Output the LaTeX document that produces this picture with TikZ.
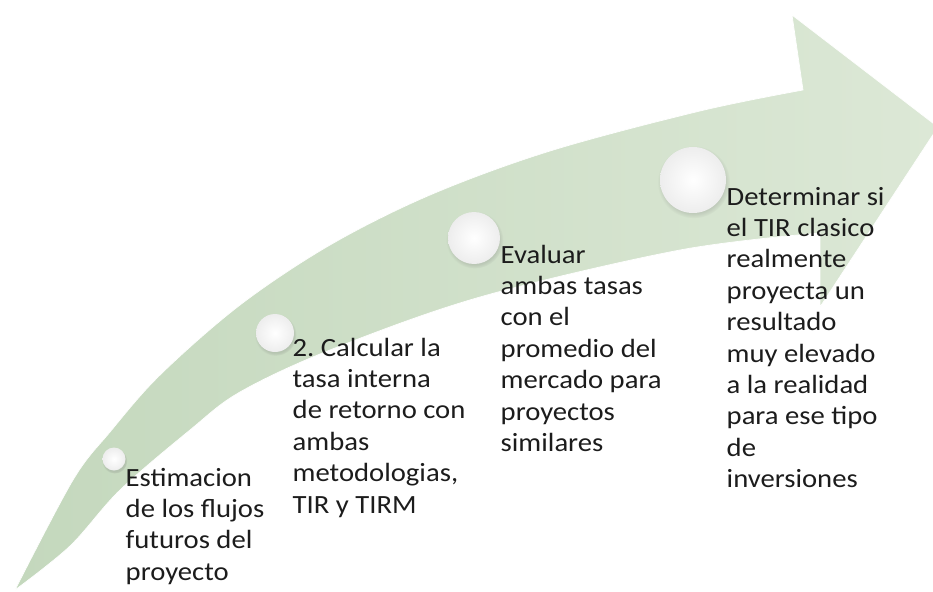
\documentclass[tikz,border=0pt]{standalone}
\usepackage{fontspec}
\setmainfont[FakeStretch=1.09]{Carlito}
\usetikzlibrary{shadows}
\definecolor{arrowA}{HTML}{C4D8BD}
\definecolor{arrowB}{HTML}{DCE8D6}
\definecolor{txt}{HTML}{1C1C1C}
\frenchspacing
\begin{document}
\begin{tikzpicture}[x=1pt,y=-1pt,
  bead/.style={circle, minimum size=#1, inner sep=0pt, shade, inner color=white, outer color=black!7,
     circular drop shadow={shadow xshift=0.6pt, shadow yshift=-1.8pt, opacity=0.2, fill=black!60}},
  steptext/.style={anchor=north west, inner sep=0pt, align=left,
     font=\fontsize{26.3}{31.4}\selectfont, text=txt},
  arrowbody/.style={left color=arrowA, right color=arrowB, draw=white, line width=0.7pt}]
\useasboundingbox (0,0) rectangle (933,591);
% curved arrow
\path[arrowbody] (15,590)
  -- plot[smooth, tension=0.55] coordinates {(15,590) (73,480) (110,432) (160,375) (240,305) (330,245) (430,195) (550,151) (700,111) (803,90)}
  -- (792,15) -- (938,127) -- (820,307) -- (820,233)
  -- plot[smooth, tension=0.55] coordinates {(820,233) (680,250) (480,297) (330,350) (240,392) (190,430) (120,490) (70,546) (15,590)}
  -- cycle;
% beads
\node[bead=23pt] (c1) at (114,459) {};
\node[bead=38pt] (c2) at (275,333) {};
\node[bead=52pt] (c3) at (474,238) {};
\node[bead=66pt] (c4) at (693,180) {};
% texts
\node[steptext] (t1) at (125.5,464) {\strut Estimacion\\de los flujos\\futuros del\\proyecto};
\node[steptext] (t2) at (292.5,334) {\strut 2. Calcular la\\tasa interna\\de retorno con\\ambas\\metodologias,\\TIR y TIRM};
\node[steptext] (t3) at (500.5,241) {\strut Evaluar\\ambas tasas\\con el\\promedio del\\mercado para\\proyectos\\similares};
\node[steptext] (t4) at (726.5,183) {\strut Determinar si\\el TIR clasico\\realmente\\proyecta un\\resultado\\muy elevado\\a la realidad\\para ese tipo\\de\\inversiones};
\end{tikzpicture}
\end{document}
